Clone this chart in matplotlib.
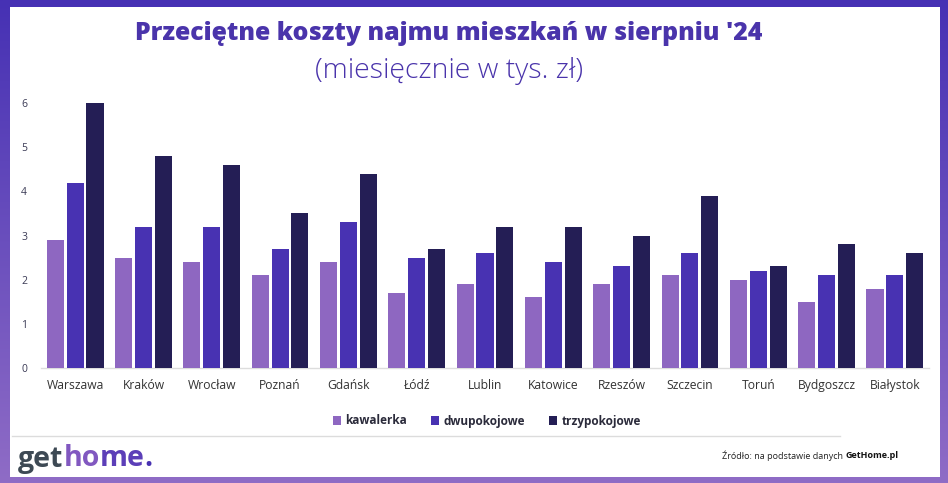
import numpy as np
import matplotlib
matplotlib.use("Agg")
import matplotlib.pyplot as plt
from matplotlib.patches import Rectangle
from matplotlib.colors import LinearSegmentedColormap

cities = ["Warszawa", "Kraków", "Wrocław", "Poznań", "Gdańsk", "Łódź", "Lublin",
          "Katowice", "Rzeszów", "Szczecin", "Toruń", "Bydgoszcz", "Białystok"]
kawalerka = [2.9, 2.5, 2.4, 2.1, 2.4, 1.7, 1.9, 1.6, 1.9, 2.1, 2.0, 1.5, 1.8]
dwupokojowe = [4.2, 3.2, 3.2, 2.7, 3.3, 2.5, 2.6, 2.4, 2.3, 2.6, 2.2, 2.1, 2.1]
trzypokojowe = [6.0, 4.8, 4.6, 3.5, 4.4, 2.7, 3.2, 3.2, 3.0, 3.9, 2.3, 2.8, 2.6]
series_names = ["kawalerka", "dwupokojowe", "trzypokojowe"]
yticks = [0, 1, 2, 3, 4, 5, 6]

colors = ["#8e67c1", "#4832b2", "#241e55"]
title_color = "#4a34ab"
FONT = ["Open Sans", "DejaVu Sans"]

W, H = 948, 483
fig = plt.figure(figsize=(W / 100, H / 100), dpi=100)

# gradient frame
bg = fig.add_axes([0, 0, 1, 1])
cmap = LinearSegmentedColormap.from_list("fr", ["#4631b4", "#6a4fbd", "#8f6cc6"])
grad = np.linspace(0, 1, 256).reshape(-1, 1)
bg.imshow(grad, aspect="auto", cmap=cmap, extent=[0, W, H, 0])
bg.add_patch(Rectangle((10, 7), 930, 470, facecolor="white", edgecolor="none"))
bg.set_xlim(0, W)
bg.set_ylim(H, 0)
bg.axis("off")

# separator line
bg.plot([12, 840], [435.5, 435.5], color="#dcdcdc", lw=1)

# titles
bg.text(449, 34, "Przeciętne koszty najmu mieszkań w sierpniu '24", ha="center", va="center",
        fontsize=17.9, fontweight="heavy", color=title_color, family=FONT)
bg.text(449, 71, "(miesięcznie w tys. zł)", ha="center", va="center",
        fontsize=20.5, fontweight="light", color=title_color, family=FONT)

# logo
x0 = 18
ly = 459
lfs = 20.5
t = bg.text(x0, ly, "get", ha="left", va="center", fontsize=lfs, fontweight="bold",
            color="#3d4954", family=FONT)
fig.canvas.draw()
r = fig.canvas.get_renderer()
bb = t.get_window_extent(r)
x1 = x0 + bb.width
t2 = bg.text(x1, ly, "ho", ha="left", va="center", fontsize=lfs, fontweight="bold",
             color="#8158c0", family=FONT)
bb2 = t2.get_window_extent(r)
x2 = x1 + bb2.width
t3 = bg.text(x2, ly, "me", ha="left", va="center", fontsize=lfs, fontweight="bold",
             color="#5c3fb8", family=FONT)
bb3 = t3.get_window_extent(r)
bg.text(x2 + bb3.width, ly, ".", ha="left", va="center", fontsize=lfs, fontweight="bold",
        color="#4832b2", family=FONT)

# source
s1 = bg.text(722, 456, "Źródło: na podstawie danych ", ha="left", va="center", fontsize=6.5,
             color="#222222", family=FONT)
bb4 = s1.get_window_extent(r)
bg.text(722 + bb4.width, 456, "GetHome.pl", ha="left", va="center", fontsize=6.5,
        fontweight="bold", color="#111111", family=FONT)

# chart
ax = fig.add_axes([41 / W, (H - 368) / H, 888 / W, (368 - 103) / H])
x = np.arange(len(cities))
bw = 0.25
off = 0.29
for i, (vals, c, n) in enumerate(zip([kawalerka, dwupokojowe, trzypokojowe], colors, series_names)):
    ax.bar(x + (i - 1) * off, vals, width=bw, color=c, label=n, zorder=3, clip_on=False)
ax.set_xlim(-0.5, len(cities) - 0.5)
ax.set_ylim(0, 6)
for s in ["top", "right", "left"]:
    ax.spines[s].set_visible(False)
ax.spines["bottom"].set_color("#dddddd")
ax.spines["bottom"].set_linewidth(1)
ax.set_yticks(yticks)
ax.set_yticklabels([str(v) for v in yticks], family=FONT, fontsize=7.5, color="#3a3a55")
ax.set_xticks(x)
ax.set_xticklabels(cities, family=FONT, fontsize=8.7, color="#333333")
ax.tick_params(axis="both", length=0)
ax.tick_params(axis="y", pad=10)
ax.tick_params(axis="x", pad=8)
ax.set_facecolor("none")

leg = fig.legend(loc="center", bbox_to_anchor=(487 / W, 1 - 421 / H), ncol=3, frameon=False,
                 prop={"family": FONT, "size": 8.5, "weight": "bold"}, handlelength=0.7,
                 handleheight=0.7, columnspacing=2.0, handletextpad=0.4)
for txt in leg.get_texts():
    txt.set_color("#2b2b3b")

fig.savefig("out.png", dpi=100)
